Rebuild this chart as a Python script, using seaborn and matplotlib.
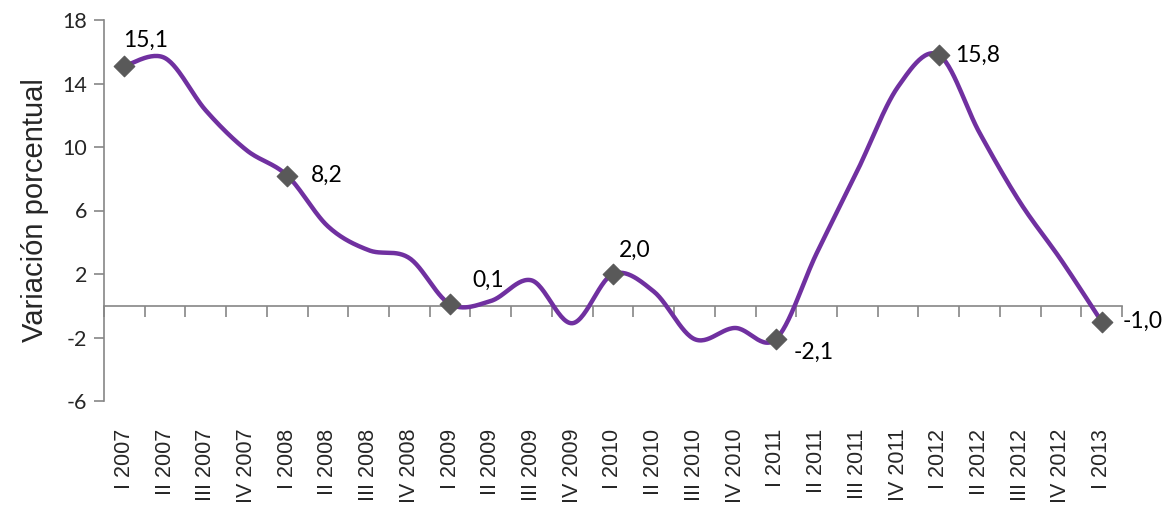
import numpy as np
import matplotlib
matplotlib.use("Agg")
import matplotlib.pyplot as plt
import seaborn as sns

quarters = ["I 2007", "II 2007", "III 2007", "IV 2007",
            "I 2008", "II 2008", "III 2008", "IV 2008",
            "I 2009", "II 2009", "III 2009", "IV 2009",
            "I 2010", "II 2010", "III 2010", "IV 2010",
            "I 2011", "II 2011", "III 2011", "IV 2011",
            "I 2012", "II 2012", "III 2012", "IV 2012",
            "I 2013"]
values = [15.1, 15.6, 12.3, 9.8,
          8.2, 5.0, 3.5, 3.0,
          0.1, 0.3, 1.6, -1.1,
          2.0, 0.9, -2.1, -1.4,
          -2.1, 3.3, 8.5, 13.8,
          15.8, 10.9, 6.5, 2.9,
          -1.0]
label_labels = ["15,1", "8,2", "0,1", "2,0", "-2,1", "15,8", "-1,0"]
y_ticks = [-6, -2, 2, 6, 10, 14, 18]

# label offsets (pixels) — style only
label_offsets = [(21, 26), (40, 0), (38, 24), (22, 24), (38, -13), (39, 0), (41, 0)]

sns.set_style("white")
arial_like = ["Liberation Sans", "Arimo", "DejaVu Sans"]
plt.rcParams['font.family'] = arial_like

fig = plt.figure(figsize=(11.64, 5.08), dpi=100)
ax = fig.add_axes([104/1164, 1 - 401/508, (1122-104)/1164, (401-20)/508])

x = np.arange(len(values), dtype=float)
y = np.array(values, dtype=float)

# Excel-style smoothed line (cubic Bezier, Catmull-Rom control points)
xs, ys = [], []
n = len(x)
t = np.linspace(0, 1, 30)
for i in range(n - 1):
    p0 = np.array([x[max(i-1, 0)], y[max(i-1, 0)]])
    p1 = np.array([x[i], y[i]])
    p2 = np.array([x[i+1], y[i+1]])
    p3 = np.array([x[min(i+2, n-1)], y[min(i+2, n-1)]])
    c1 = p1 + (p2 - p0) / 6.0
    c2 = p2 - (p3 - p1) / 6.0
    b = ((1-t)**3)[:, None]*p1 + (3*(1-t)**2*t)[:, None]*c1 + (3*(1-t)*t**2)[:, None]*c2 + (t**3)[:, None]*p2
    xs.extend(b[:, 0]); ys.extend(b[:, 1])

sns.lineplot(x=xs, y=ys, sort=False, ax=ax, color="#7030A0", linewidth=3.2, zorder=3)

mk_idx = list(range(0, n, 4))
sns.scatterplot(x=x[mk_idx], y=y[mk_idx], ax=ax, marker="D", s=110, color="#595959",
                edgecolor="#595959", zorder=4)

for k, i in enumerate(mk_idx):
    ax.annotate(label_labels[k], (x[i], y[i]), xytext=label_offsets[k], textcoords="offset pixels",
                ha="center", va="center", fontsize=16.5, family=["Lato", "DejaVu Sans"], color="black")

ax.set_xlim(-0.5, n - 0.5)
ax.set_ylim(-6, 18)
ax.set_yticks(y_ticks)
ax.set_yticklabels([str(v) for v in y_ticks], family=["Lato", "DejaVu Sans"], fontsize=15.5)
ax.tick_params(axis="y", direction="out", length=7, width=1.2, color="#868686", pad=5, left=True)

# category labels at bottom, no ticks there
ax.set_xticks(x)
ax.set_xticklabels(quarters, rotation=90, fontsize=15.5, va="top", ha="center", family=arial_like)
ax.tick_params(axis="x", length=0, pad=20, bottom=True)

for s in ["top", "right", "bottom"]:
    ax.spines[s].set_visible(False)
ax.spines["left"].set_color("#868686")
ax.spines["left"].set_linewidth(1.2)

# horizontal category axis at y = 0
sec = ax.secondary_xaxis(6/24)
sec.set_xticks(np.arange(-0.5, n, 1.0))
sec.set_xticklabels([])
sec.tick_params(direction="out", length=8, width=1.2, color="#868686")
sec.spines["bottom"].set_color("#868686")
sec.spines["bottom"].set_linewidth(1.2)

ax.set_ylabel("Variación porcentual", fontsize=21, labelpad=10, family=arial_like)
ax.set_xlabel("")
ax.grid(False)

fig.savefig("out.png", dpi=100)
